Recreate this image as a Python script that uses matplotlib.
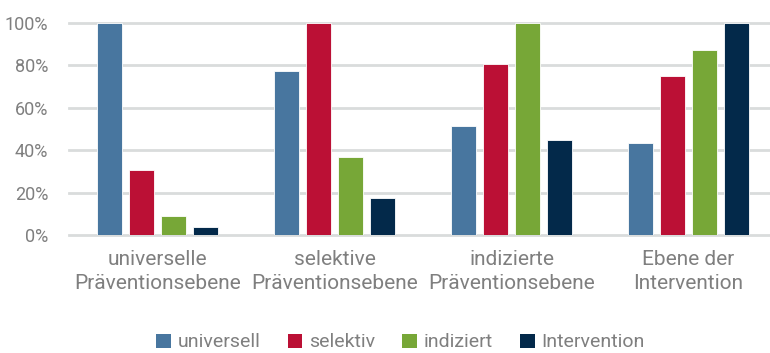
import numpy as np
import matplotlib.pyplot as plt
from matplotlib.patches import Patch

plt.rcParams['font.family'] = ['Roboto', 'DejaVu Sans']

categories = ["universelle\nPräventionsebene", "selektive\nPräventionsebene",
              "indizierte\nPräventionsebene", "Ebene der\nIntervention"]
series = ["universell", "selektiv", "indiziert", "Intervention"]
universell = [100, 77.5, 51.5, 43.5]
selektiv = [30.5, 100, 80.5, 75]
indiziert = [9, 37, 100, 87.5]
intervention = [4, 17.5, 45, 100]
colors = ["#48769f", "#bb1035", "#77a737", "#03294a"]
yticks = [0, 20, 40, 60, 80, 100]

values = [universell, selektiv, indiziert, intervention]
grey = "#7f7f7f"

fig = plt.figure(figsize=(7.7, 3.53), dpi=100)
ax = fig.add_axes([69 / 770, 1 - 235 / 353, 701 / 770, 212 / 353])

x = np.arange(len(categories))
width = 0.141
step = 0.181
for i, (vals, c) in enumerate(zip(values, colors)):
    ax.bar(x + (i - 1.5) * step, vals, width, color=c, edgecolor="white",
           linewidth=0.6, zorder=3)

for t in yticks:
    ax.axhline(t, color="#d9dcdc", linewidth=2, zorder=1, clip_on=False)

ax.set_xlim(-0.5, 3.5 - 7 / 177)
ax.set_ylim(0, 100)
ax.set_yticks(yticks)
ax.set_yticklabels([f"{t}%" for t in yticks], fontsize=13, color=grey)
ax.set_xticks(x)
ax.set_xticklabels(categories, fontsize=15, color=grey, linespacing=1.3)
ax.tick_params(axis="both", length=0)
ax.tick_params(axis="x", pad=11)
ax.tick_params(axis="y", pad=15)
for s in ax.spines.values():
    s.set_visible(False)

handles = [Patch(facecolor=c, edgecolor="none") for c in colors]
fig.legend(handles, series, loc="center", bbox_to_anchor=(0.52, 0.03),
           ncol=4, frameon=False, fontsize=14, labelcolor=grey,
           handlelength=0.75, handleheight=0.75, handletextpad=0.35,
           columnspacing=1.4, borderpad=0.1)

fig.savefig("out.png", dpi=100)
